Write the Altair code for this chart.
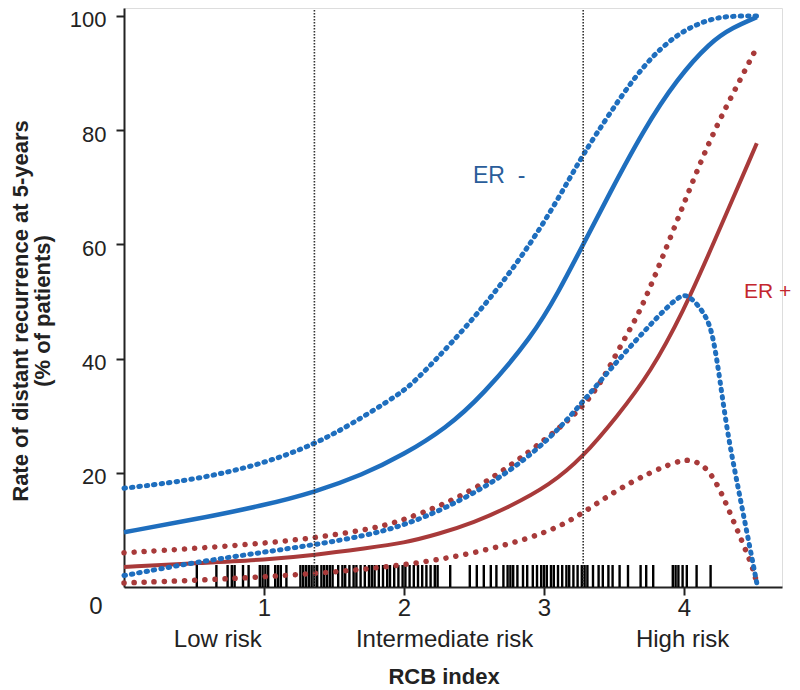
import altair as alt
import pandas as pd

# ---------------- data ----------------
# ER- fitted curve and its confidence band (blue)
x_neg_fit = [0.0, 0.5, 1.0, 1.36, 1.7, 2.0, 2.3, 2.56, 2.92, 3.1, 3.28, 3.47, 3.71, 3.95, 4.19, 4.35, 4.52]
y_neg_fit = [9.6, 11.8, 14.3, 16.6, 19.6, 23.2, 27.8, 33.5, 44.0, 51.5, 60.0, 69.0, 80.0, 89.0, 95.5, 98.0, 99.8]

x_neg_hi = [0.0, 0.5, 1.0, 1.36, 1.61, 1.97, 2.09, 2.56, 2.92, 3.16, 3.28, 3.47, 3.71, 3.95, 4.19, 4.35, 4.52]
y_neg_hi = [17.3, 18.7, 21.6, 25.0, 28.3, 33.8, 36.2, 48.5, 60.5, 70.5, 75.8, 83.0, 91.5, 97.0, 99.6, 100.0, 100.0]

x_neg_lo = [0.0, 0.5, 1.0, 1.36, 1.73, 2.0, 2.3, 2.69, 3.04, 3.28, 3.52, 3.76, 3.97, 4.04, 4.16, 4.21, 4.26, 4.31, 4.38, 4.45, 4.52]
y_neg_lo = [2.0, 4.3, 6.1, 7.4, 9.0, 10.8, 13.8, 19.0, 25.8, 32.5, 39.5, 46.0, 51.3, 51.1, 47.6, 43.8, 35.7, 27.0, 18.2, 9.5, 0.7]

# ER+ fitted curve and its confidence band (red)
x_pos_fit = [0.0, 0.54, 1.02, 1.36, 1.73, 2.0, 2.25, 2.5, 2.75, 3.04, 3.28, 3.52, 3.76, 4.0, 4.19, 4.52]
y_pos_fit = [3.5, 4.2, 4.8, 5.6, 6.8, 7.7, 9.3, 11.3, 14.0, 17.8, 22.8, 29.8, 37.5, 48.5, 59.0, 77.7]

x_pos_hi = [0.0, 0.54, 1.02, 1.36, 1.73, 1.97, 2.5, 3.04, 3.28, 3.42, 3.52, 3.61, 3.69, 3.83, 3.99, 4.19, 4.4, 4.52]
y_pos_hi = [6.0, 6.8, 7.7, 8.6, 10.0, 11.4, 16.5, 26.3, 31.5, 36.3, 41.0, 45.0, 48.5, 56.7, 66.6, 78.8, 88.8, 94.5]

x_pos_lo = [0.0, 0.54, 1.02, 1.5, 2.0, 2.5, 3.04, 3.28, 3.52, 3.76, 3.95, 4.04, 4.16, 4.26, 4.34, 4.42, 4.49, 4.52]
y_pos_lo = [0.7, 1.2, 1.8, 2.6, 3.8, 5.8, 9.5, 13.0, 17.0, 20.1, 22.0, 22.4, 21.2, 17.0, 12.3, 7.7, 3.5, 0.7]

# individual patients' RCB index (rug)
rcb_values = [
    0.52, 0.66, 0.74, 0.77, 0.79, 0.85, 0.89, 0.97, 0.99, 1.01, 1.03, 1.08, 1.10, 1.12, 1.16,
    1.26, 1.28, 1.30, 1.32, 1.34, 1.36, 1.38, 1.41, 1.43, 1.45, 1.47, 1.49, 1.53,
    1.56, 1.58, 1.61, 1.64, 1.66, 1.69, 1.72, 1.75, 1.77, 1.79, 1.82, 1.85, 1.88, 1.90, 1.93,
    1.96, 1.99, 2.01, 2.04, 2.07, 2.10, 2.13, 2.16, 2.19, 2.22, 2.24, 2.33, 2.47, 2.52, 2.57,
    2.62, 2.66, 2.71, 2.74, 2.76, 2.78, 2.81, 2.85, 2.88, 2.92, 2.95,
    2.98, 3.00, 3.02, 3.05, 3.07, 3.10, 3.13, 3.16, 3.18, 3.21, 3.24, 3.27, 3.29, 3.31, 3.35,
    3.39, 3.42, 3.46, 3.49, 3.54, 3.60, 3.69, 3.73, 3.78, 3.92, 3.94, 3.96, 3.99, 4.02, 4.09, 4.19,
]

cutoffs = [1.36, 3.28]
x_ticks = [1, 2, 3, 4]
y_ticks = [20, 40, 60, 80, 100]
risk_labels = ["Low risk", "Intermediate risk", "High risk"]
risk_label_x = [0.67, 2.29, 3.99]

# ---------------- build tables ----------------
rows = []
for name, xs_, ys_ in [
    ("neg_fit", x_neg_fit, y_neg_fit), ("neg_hi", x_neg_hi, y_neg_hi), ("neg_lo", x_neg_lo, y_neg_lo),
    ("pos_fit", x_pos_fit, y_pos_fit), ("pos_hi", x_pos_hi, y_pos_hi), ("pos_lo", x_pos_lo, y_pos_lo),
]:
    for a, b in zip(xs_, ys_):
        rows.append({"series": name, "x": a, "y": b})
df = pd.DataFrame(rows)
rug_df = pd.DataFrame({"x": rcb_values})
cut_df = pd.DataFrame({"x": cutoffs})
risk_df = pd.DataFrame({"label": risk_labels, "x": risk_label_x})

PAD_TOP = 0
W, H = 658, 579
X0, Y0 = 124, 8 + PAD_TOP  # page position of plot origin
FONT = "Liberation Sans"
BLUE = "#1e6ebe"
RED = "#a83a3a"

xscale = alt.Scale(domain=[0, 4.7], nice=False, zero=False)
yscale = alt.Scale(domain=[0, 101.4], nice=False, zero=False)

x_axis = alt.Axis(values=x_ticks, format="d", labelFontSize=24, labelFont=FONT, labelColor="#222",
                  tickSize=8, tickWidth=2, tickColor="#222", domainColor="#222", domainWidth=2,
                  labelPadding=1, grid=False, title=None)
y_axis = alt.Axis(values=y_ticks, format="d", labelFontSize=22, labelFont=FONT, labelColor="#222",
                  tickSize=8, tickWidth=2, tickColor="#222", domainColor="#222", domainWidth=2,
                  labelPadding=10, labelOffset=4, grid=False, title=None)

X = alt.X("x:Q", scale=xscale, axis=x_axis)
Y = alt.Y("y:Q", scale=yscale, axis=y_axis)


def curve(series, color, width, dash=None, cap="butt"):
    kw = dict(color=color, strokeWidth=width, interpolate="basis", strokeCap=cap, clip=False)
    if dash is not None:
        kw["strokeDash"] = dash
    return (alt.Chart(df).transform_filter(alt.datum.series == series)
            .mark_line(**kw).encode(x=X, y=Y))


def txt(s, px, py, color="#222", size=24, bold=False, angle=0, align="center", baseline="middle"):
    kw = dict(font=FONT, fontSize=size, color=color, align=align, baseline=baseline,
              fontWeight="bold" if bold else "normal")
    if angle:
        kw["angle"] = angle
    return alt.Chart(pd.DataFrame({"t": [s]})).mark_text(**kw).encode(
        text="t:N", x=alt.value(px - X0), y=alt.value(py - Y0))


rug = alt.Chart(rug_df).mark_rule(color="black", strokeWidth=2.4).encode(
    x=X, y=alt.Y(datum=0, scale=yscale, axis=y_axis), y2=alt.datum(3.85))

cuts = alt.Chart(cut_df).mark_rule(color="#333", strokeWidth=1.6, strokeDash=[1.5, 1.5]).encode(
    x=X, y=alt.value(2), y2=alt.value(H))

risk = alt.Chart(risk_df).mark_text(font=FONT, fontSize=24, color="#222", baseline="middle").encode(
    x=X, y=alt.value(640 - Y0), text="label:N")

blue_dot = [1.5, 6]
red_dot = [0.1, 10]

chart = alt.layer(
    rug,
    curve("pos_hi", RED, 5.5, red_dot, "round"),
    curve("pos_lo", RED, 5.5, red_dot, "round"),
    curve("pos_fit", RED, 4.0),
    curve("neg_hi", BLUE, 5.0, blue_dot, "round"),
    curve("neg_lo", BLUE, 5.0, blue_dot, "round"),
    curve("neg_fit", BLUE, 4.5),
    cuts,
    risk,
    txt("0", 96, 607),
    txt("RCB index", 444, 677, bold=True, size=22),
    txt("Rate of distant recurrence at 5-years", 21, 311, bold=True, size=22, angle=270),
    txt("(% of patients)", 43, 311, bold=True, size=22, angle=270),
    txt("ER\u00a0\u00a0-", 473, 176, color="#2a5d9a", size=23, align="left"),
    txt("ER +", 744, 292, color="#c4262e", size=21, align="left"),
).properties(
    width=W, height=H, autosize="none",
    padding={"left": 116, "top": PAD_TOP, "right": 10, "bottom": 103},
).configure_view(stroke=None).configure(background="white")

chart.save("out.html", embed_options={"renderer": "svg", "actions": False})
